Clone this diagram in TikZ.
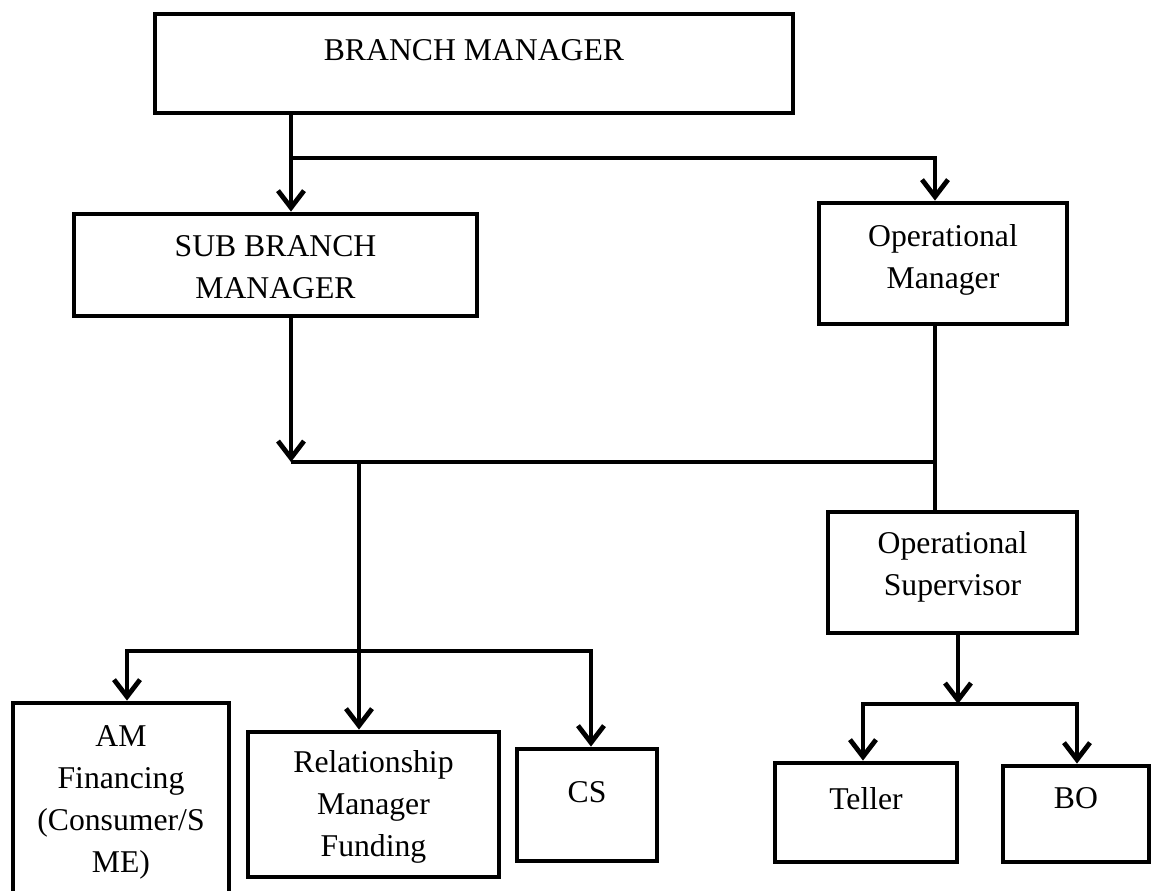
\documentclass[tikz,border=0pt]{standalone}
\usepackage{fontspec}
\setmainfont{Liberation Serif}
\usetikzlibrary{arrows.meta}
\newcommand\boxtext[2]{\raisebox{#1}[0pt][0pt]{\begin{tabular}[t]{@{}c@{}}#2\end{tabular}}}
\tikzset{
  orgbox/.style={draw=black, line width=4.8pt, rectangle, inner sep=0pt,
    font=\fontsize{31.7pt}{42pt}\selectfont},
  link/.style={draw=black, line width=4.8pt},
  arr/.style={link, -{Straight Barb[length=17pt, width=26pt]}},
}
\begin{document}
\begin{tikzpicture}[x=1pt, y=-1pt]
\useasboundingbox (0,0) rectangle (1152,891);
\fill[white] (0,0) rectangle (1152,891);

\node[orgbox, minimum width=638pt, minimum height=99pt] (bm) at (474,63.5) {\boxtext{2.5pt}{BRANCH MANAGER}};
\node[orgbox, minimum width=403pt, minimum height=102pt] (sbm) at (275.5,265) {\boxtext{9pt}{SUB BRANCH\\MANAGER}};
\node[orgbox, minimum width=248pt, minimum height=121pt] (om) at (943,263.5) {\boxtext{17.5pt}{Operational\\Manager}};
\node[orgbox, minimum width=249pt, minimum height=121pt] (os) at (952.5,572.5) {\boxtext{19.5pt}{Operational\\Supervisor}};
\node[orgbox, minimum width=216pt, minimum height=202pt] (am) at (121,804) {\boxtext{58pt}{AM\\Financing\\(Consumer/S\\ME)}};
\node[orgbox, minimum width=251pt, minimum height=145pt] (rmf) at (373.5,804.5) {\boxtext{32.5pt}{Relationship\\Manager\\Funding}};
\node[orgbox, minimum width=140pt, minimum height=112pt] (cs) at (587,805) {\boxtext{3pt}{CS}};
\node[orgbox, minimum width=182pt, minimum height=99pt] (teller) at (866,812.5) {\boxtext{3.5pt}{Teller}};
\node[orgbox, minimum width=146pt, minimum height=96pt] (bo) at (1076,814) {\boxtext{6pt}{BO}};

\coordinate (a1) at (291,158);
\coordinate (a2) at (935,158);
\coordinate (b1) at (291,462);
\coordinate (b2) at (935,462);
\coordinate (b3) at (359,462);
\coordinate (c1) at (359,651);
\coordinate (c2) at (127,651);
\coordinate (c3) at (591,651);
\coordinate (d1) at (958,704);
\coordinate (d2) at (863,704);
\coordinate (d3) at (1077,704);

\draw[arr] (a1 |- bm.south) -- (a1 |- sbm.north);
\draw[arr] (a1) -- (a2) -- (a2 |- om.north);
\draw[arr] (b1 |- sbm.south) -- (b1);
\draw[link] (b1) -- (b2);
\draw[link] (b2 |- om.south) -- (b2 |- os.north);
\draw[arr] (b3) -- (b3 |- rmf.north);
\draw[arr] (c1) -- (c2) -- (c2 |- am.north);
\draw[arr] (c1) -- (c3) -- (c3 |- cs.north);
\draw[arr] (d1 |- os.south) -- (d1);
\draw[arr] (d1) -- (d2) -- (d2 |- teller.north);
\draw[arr] (d1) -- (d3) -- (d3 |- bo.north);
\end{tikzpicture}
\end{document}
